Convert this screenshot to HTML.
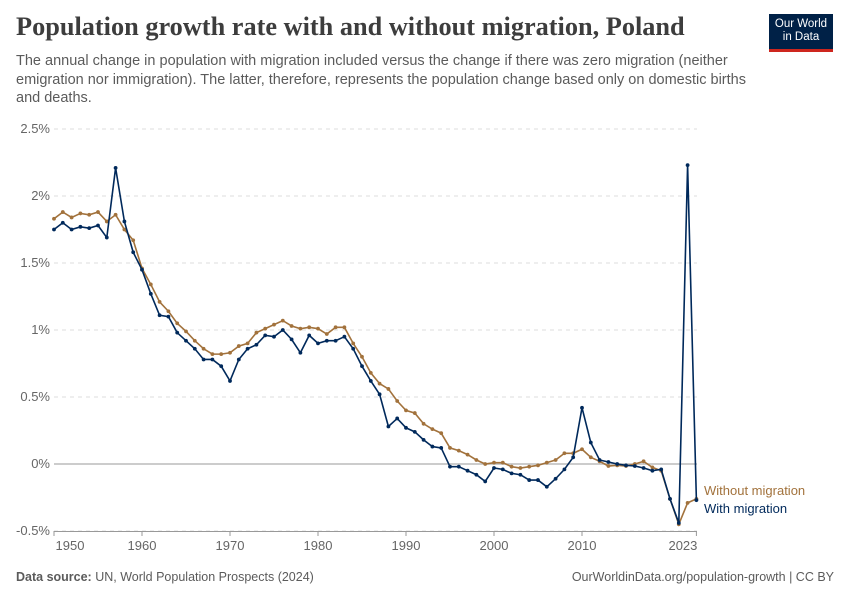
<!DOCTYPE html>
<html><head><meta charset="utf-8"><style>
body{margin:0;background:#fff;width:850px;height:600px;overflow:hidden;font-family:"Liberation Sans",sans-serif}
#title{position:absolute;left:16px;top:12px;font-family:"Liberation Serif",serif;font-weight:bold;font-size:26.3px;color:#3d3d3d;margin:0}
#sub{position:absolute;left:16px;top:52px;width:735px;font-size:14.5px;line-height:18.5px;color:#5b5b5b}
#logo{position:absolute;left:769px;top:14px;width:64px;height:38px;background:#002147;border-bottom:3px solid #ce261e;color:#fff;font-size:11.5px;line-height:13px;text-align:center;padding-top:4px;box-sizing:border-box}
.foot{position:absolute;top:570px;font-size:12.5px;color:#5b5b5b}
</style></head><body>
<h1 id="title">Population growth rate with and without migration, Poland</h1>
<div id="sub">The annual change in population with migration included versus the change if there was zero migration (neither emigration nor immigration). The latter, therefore, represents the population change based only on domestic births and deaths.</div>
<div id="logo">Our World<br>in Data</div>
<div class="foot" style="left:16px"><b>Data source:</b> UN, World Population Prospects (2024)</div>
<div class="foot" style="right:16px">OurWorldinData.org/population-growth | CC BY</div>
<svg id="chart" width="850" height="600" style="position:absolute;left:0;top:0"></svg>
<script>
const years=[];for(let y=1950;y<=2023;y++)years.push(y);
const withMigration=[1.75,1.80,1.75,1.77,1.76,1.78,1.69,2.21,1.81,1.58,1.45,1.27,1.11,1.10,0.98,0.92,0.86,0.78,0.78,0.73,0.62,0.78,0.86,0.89,0.96,0.95,1.00,0.93,0.83,0.96,0.90,0.92,0.92,0.95,0.86,0.73,0.62,0.52,0.28,0.34,0.27,0.24,0.18,0.13,0.12,-0.02,-0.02,-0.05,-0.08,-0.13,-0.03,-0.04,-0.07,-0.08,-0.12,-0.12,-0.17,-0.11,-0.04,0.05,0.42,0.16,0.03,0.015,0.00,-0.01,-0.015,-0.03,-0.05,-0.04,-0.26,-0.44,2.23,-0.27];
const withoutMigration=[1.83,1.88,1.84,1.87,1.86,1.88,1.81,1.86,1.75,1.67,1.46,1.34,1.21,1.14,1.05,0.99,0.92,0.86,0.82,0.82,0.83,0.88,0.90,0.98,1.01,1.04,1.07,1.03,1.01,1.02,1.01,0.97,1.02,1.02,0.90,0.80,0.68,0.60,0.56,0.47,0.40,0.38,0.30,0.26,0.23,0.12,0.10,0.07,0.03,0.00,0.01,0.01,-0.02,-0.03,-0.02,-0.01,0.01,0.03,0.08,0.08,0.11,0.05,0.02,-0.015,-0.01,-0.015,0.00,0.02,-0.025,-0.05,-0.26,-0.45,-0.29,-0.26];
const yTicks=[-0.5,0,0.5,1,1.5,2,2.5];
const yTickLabels=["-0.5%","0%","0.5%","1%","1.5%","2%","2.5%"];
const xTicks=[1950,1960,1970,1980,1990,2000,2010,2023];
const NS="http://www.w3.org/2000/svg",svg=document.getElementById('chart');
const X=y=>54+(y-1950)*8.8, Y=v=>464-v*134;
function mk(t,a,p){const e=document.createElementNS(NS,t);for(const k in a)e.setAttribute(k,a[k]);(p||svg).appendChild(e);return e;}
yTicks.forEach((v,i)=>{
 const l=mk('line',{x1:54,x2:697,y1:Y(v),y2:Y(v),stroke:v===0?'#bbb':'#ddd','stroke-width':v===0?1.5:1,'stroke-dasharray':v===0?'':'4,4'});
 
 
 const t=mk('text',{x:50,y:Y(v)+4,'text-anchor':'end','font-size':13,fill:'#666'});
 t.textContent=yTickLabels[i];
 
 
});
const ax=mk('line',{x1:54,x2:697,y1:531.5,y2:531.5,stroke:'#999'});


xTicks.forEach((yr,i)=>{
 const tk=mk('line',{x1:X(yr),x2:X(yr),y1:531,y2:536,stroke:'#999'});
 
 
 const last=i===xTicks.length-1;
 const t=mk('text',{x:i===0?X(yr)+16:(last?X(yr)+1:X(yr)),y:550,'text-anchor':last?'end':'middle','font-size':13,fill:'#666'});
 t.textContent=yr;
 
 
});
function series(vals,color,name){
 const g=mk('g',{});
 
 
 const p=mk('polyline',{points:vals.map((v,i)=>X(years[i])+','+Y(v)).join(' '),fill:'none',stroke:color,'stroke-width':1.6},g);
 
 
 vals.forEach((v,i)=>{const c=mk('circle',{cx:X(years[i]),cy:Y(v),r:1.9,fill:color},g);
  
  });
}
series(withoutMigration,'#a2723c','without-migration');
series(withMigration,'#00295b','with-migration');
const l1=mk('text',{x:704,y:495,'font-size':13,fill:'#a2723c'});l1.textContent='Without migration';


const l2=mk('text',{x:704,y:513,'font-size':13,fill:'#00295b'});l2.textContent='With migration';


</script>
</body></html>
